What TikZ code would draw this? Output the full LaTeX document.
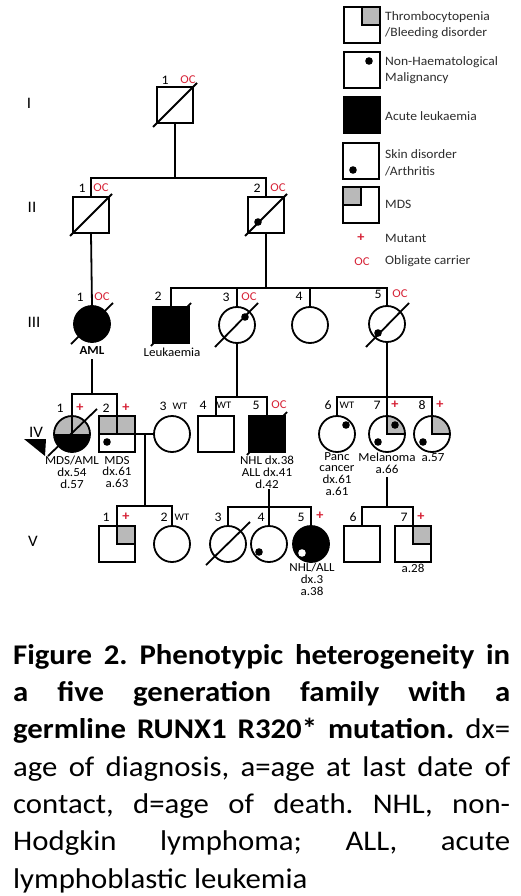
\documentclass[tikz,border=0pt]{standalone}
\usepackage{fontspec}
\setmainfont{Carlito}[FakeStretch=1.06]
\newfontfamily\capfont{Carlito}[FakeStretch=1.08]
\usetikzlibrary{calc}
\definecolor{ocred}{RGB}{215,35,55}
\definecolor{qgrey}{RGB}{185,185,185}
\definecolor{legtxt}{RGB}{45,45,45}
\begin{document}
\frenchspacing
\begin{tikzpicture}[x=1pt,y=-1pt,
  sq/.style={draw, line width=1.8pt, minimum size=36pt, inner sep=0pt, fill=white},
  ci/.style={sq, circle},
  blk/.style={fill=black},
  lnk/.style={line width=1.8pt},
  dec/.style={line width=1.8pt},
  qUR/.style={path picture={\fill[qgrey] (path picture bounding box.center) rectangle (path picture bounding box.north east);
     \draw[line width=1.8pt] (path picture bounding box.north) -- (path picture bounding box.center) -- (path picture bounding box.east);}},
  qUL/.style={path picture={\fill[qgrey] (path picture bounding box.center) rectangle (path picture bounding box.north west);
     \draw[line width=1.8pt] (path picture bounding box.north) -- (path picture bounding box.center) -- (path picture bounding box.west);}},
  half/.style={path picture={\fill[qgrey] (path picture bounding box.west) rectangle (path picture bounding box.north east);
     \fill[black] (path picture bounding box.west) rectangle (path picture bounding box.south east);}},
  topgrey/.style={path picture={\fill[qgrey] (path picture bounding box.west) rectangle (path picture bounding box.north east);
     \draw[line width=1.8pt] (path picture bounding box.north) -- (path picture bounding box.center)
       (path picture bounding box.west) -- (path picture bounding box.east);}},
  num/.style={font=\fontsize{13}{13}\selectfont, inner sep=0pt},
  oc/.style={font=\fontsize{12}{12}\selectfont, text=ocred, inner sep=0pt},
  plus/.style={font=\bfseries\fontsize{13.5}{13}\selectfont, text=ocred, inner sep=0pt},
  wt/.style={font=\fontsize{10}{10}\selectfont, inner sep=0pt},
  info/.style={font=\fontsize{12.3}{11.8}\selectfont, align=center, inner sep=0pt, anchor=north},
  gen/.style={font=\fontsize{16}{16}\selectfont, inner sep=0pt},
  leg/.style={font=\fontsize{12.8}{16.5}\selectfont, text=legtxt, align=left, anchor=west, inner sep=0pt}
]
\fill[white] (0,0) rectangle (520,896);

% ---------- legend ----------
\node[sq, qUR] (L1) at (362,25) {};
\node[sq] (L2) at (362,70) {};
\node[sq, blk] (L3) at (362,115) {};
\node[sq] (L4) at (361,161) {};
\node[sq, qUL] (L5) at (361,205) {};
\node[plus] (L6) at (361,238) {+};
\node[oc] (L7) at (362,262) {OC};
\fill ($(L2)+(7,-9)$) circle (3.8pt);
\fill ($(L4)+(-8,9)$) circle (3.8pt);
\node[leg] (T1) at (385,25) {Thrombocytopenia\\/Bleeding disorder};
\node[leg] (T2) at (385,70) {Non-Haematological\\Malignancy};
\node[leg] (T3) at (385,116) {Acute leukaemia};
\node[leg] (T4) at (385,163) {Skin disorder\\/Arthritis};
\node[leg] (T5) at (385,204) {MDS};
\node[leg] (T6) at (385,238) {Mutant};
\node[leg] (T7) at (385,261) {Obligate carrier};

% ---------- generation labels ----------
\node[gen] (G1) at (29,103) {I};
\node[gen] (G2) at (32,207) {II};
\node[gen] (G3) at (34,322) {III};
\node[gen] (G4) at (36,432) {IV};
\node[gen] (G5) at (33,541) {V};

% ---------- individuals ----------
\node[sq] (I1) at (175,105) {};
\node[sq] (II1) at (91,215) {};
\node[sq] (II2) at (266,215) {};
\node[ci, blk] (III1) at (92,324) {};
\node[sq, blk] (III2) at (171,325) {};
\node[ci] (III3) at (237,325) {};
\node[ci] (III4) at (310,325) {};
\node[ci] (III5) at (387,324) {};
\node[ci, half] (IV1) at (72,434) {};
\node[sq, topgrey] (IV2) at (117,434) {};
\node[ci] (IV3) at (172,434) {};
\node[sq] (IV4) at (216,434) {};
\node[sq, blk] (IV5) at (267,434) {};
\node[ci] (IV6) at (337,434) {};
\node[ci, qUR] (IV7) at (387,434) {};
\node[ci, qUR] (IV8) at (432,434) {};
\node[sq, qUR] (V1) at (117,544) {};
\node[ci] (V2) at (172,544) {};
\node[ci] (V3) at (228,544) {};
\node[ci] (V4) at (269,544) {};
\node[ci, blk] (V5) at (311,544) {};
\node[sq] (V6) at (362,544) {};
\node[sq, qUR] (V7) at (413,544) {};

% ---------- connectors ----------
\coordinate (sI) at (175,178);
\draw[lnk] (I1.south) -- (sI);
\draw[lnk] (II1.north) |- (sI) -| (II2.north);
\draw[lnk] (II1.south) -- (III1.north);
\coordinate (sII2) at (266,288);
\draw[lnk] (II2.south) -- (sII2);
\draw[lnk] (III2.north) |- (sII2) -| (III5.north);
\draw[lnk] (III3.north) -- (III3.north |- sII2);
\draw[lnk] (III4.north) -- (III4.north |- sII2);
\coordinate (dIII1) at (92,359);
\coordinate (sIII1) at (92,394);
\draw[lnk] (dIII1) -- (sIII1);
\draw[lnk] (IV1.center) |- (sIII1) -| (IV2.north);
\coordinate (sIII3) at (237,397);
\draw[lnk] (III3.south) -- (sIII3);
\draw[lnk] (IV4.north) |- (sIII3) -| (IV5.north);
\coordinate (sIII5) at (387,397);
\draw[lnk] (III5.south) -- (IV7.north);
\draw[lnk] (IV6.north) |- (sIII5) -| (IV8.north);
\draw[lnk] (IV2.east) -- (IV3.west);
\coordinate (m23) at (145,434);
\coordinate (sm23) at (145,506);
\draw[lnk] (m23) -- (sm23);
\draw[lnk] (V1.north) |- (sm23) -| (V2.north);
\coordinate (dIV5) at (269,489);
\coordinate (sIV5) at (269,507);
\draw[lnk] (dIV5) -- (sIV5);
\draw[lnk] (V3.north) |- (sIV5) -| (V5.north);
\draw[lnk] (V4.north) -- (sIV5);
\coordinate (dIV7) at (387,477);
\coordinate (sIV7) at (387,507);
\draw[lnk] (dIV7) -- (sIV7);
\draw[lnk] (V6.north) |- (sIV7) -| (V7.north);

% ---------- deceased lines ----------
\draw[dec] ($(I1)+(-22,22)$) -- ($(I1)+(22,-22)$);
\draw[dec] ($(II1)+(-21,21)$) -- ($(II1)+(21,-21)$);
\draw[dec] ($(II2)+(-21,21)$) -- ($(II2)+(21,-21)$);
\draw[dec] ($(III1)+(-21,20)$) -- ($(III1)+(21,-21)$);
\draw[dec] ($(III2)+(-20,21)$) -- ($(III2)+(20,-22)$);
\draw[dec] ($(III3)+(-22,22)$) -- ($(III3)+(21,-22)$);
\draw[dec] ($(III5)+(-21,23)$) -- ($(III5)+(22,-21)$);
\draw[dec] ($(IV1)+(-24,22)$) -- ($(IV1)+(25,-25)$);
\draw[dec] ($(IV5)+(-20,21)$) -- ($(IV5)+(20,-22)$);
\draw[dec] ($(V3)+(-22,21)$) -- ($(V3)+(22,-22)$);

% ---------- proband arrow ----------
\fill (24,439) -- (46,439) -- (45,456) -- cycle;

% ---------- dots ----------
\fill ($(II2)+(-8,7)$) circle (3.8pt);
\fill ($(III3)+(8,-8)$) circle (3.8pt);
\fill ($(III5)+(-9,9)$) circle (3.8pt);
\fill ($(IV2)+(-10,8)$) circle (3.8pt);
\fill ($(IV6)+(9,-9)$) circle (3.8pt);
\fill ($(IV7)+(8,-9)$) circle (3.8pt);
\fill ($(IV7)+(-9,8)$) circle (3.8pt);
\fill ($(IV8)+(-9,8)$) circle (3.8pt);
\fill ($(V4)+(-10,8)$) circle (3.8pt);
\fill[white] ($(V5)+(-9,9)$) circle (3.8pt);

% ---------- individual labels ----------
\node[num] (nI1) at (165,80) {1};  \node[oc] (oI1) at (188,80) {OC};
\node[num] (nII1) at (82,188) {1}; \node[oc] (oII1) at (101,188) {OC};
\node[num] (nII2) at (257,188) {2}; \node[oc] (oII2) at (278,188) {OC};
\node[num] (nIII1) at (80,297) {1}; \node[oc] (oIII1) at (102,297) {OC};
\node[num] (nIII2) at (158,296) {2};
\node[num] (nIII3) at (226,297) {3}; \node[oc] (oIII3) at (249,297) {OC};
\node[num] (nIII4) at (299,296) {4};
\node[num] (nIII5) at (378,294) {5}; \node[oc] (oIII5) at (400,294) {OC};
\node[num] (nIV1) at (60,408) {1}; \node[plus] (pIV1) at (80,408) {+};
\node[num] (nIV2) at (106,408) {2}; \node[plus] (pIV2) at (126,408) {+};
\node[num] (nIV3) at (163,406) {3}; \node[wt] (wIV3) at (180,406) {WT};
\node[num] (nIV4) at (203,405) {4}; \node[wt] (wIV4) at (224,405) {WT};
\node[num] (nIV5) at (256,405) {5}; \node[oc] (oIV5) at (279,405) {OC};
\node[num] (nIV6) at (328,405) {6}; \node[wt] (wIV6) at (347,405) {WT};
\node[num] (nIV7) at (377,405) {7}; \node[plus] (pIV7) at (395,405) {+};
\node[num] (nIV8) at (422,405) {8}; \node[plus] (pIV8) at (440,405) {+};
\node[num] (nV1) at (106,517) {1}; \node[plus] (pV1) at (126,517) {+};
\node[num] (nV2) at (164,517) {2}; \node[wt] (wV2) at (182,517) {WT};
\node[num] (nV3) at (218,517) {3};
\node[num] (nV4) at (261,517) {4};
\node[num] (nV5) at (301,517) {5}; \node[plus] (pV5) at (320,516) {+};
\node[num] (nV6) at (353,517) {6};
\node[num] (nV7) at (404,517) {7}; \node[plus] (pV7) at (421,517) {+};

% ---------- clinical info ----------
\node[info, font=\bfseries\fontsize{12.3}{11.8}\selectfont] (xIII1) at (92,346) {AML};
\node[info] (xIII2) at (172,348) {Leukaemia};
\node[info] (xIV1) at (72,456) {MDS/AML\\dx.54\\d.57};
\node[info] (xIV2) at (117,456) {MDS\\dx.61\\a.63};
\node[info] (xIV5) at (267,456) {NHL dx.38\\ALL dx.41\\d.42};
\node[info] (xIV6) at (337,452) {Panc\\cancer\\dx.61\\a.61};
\node[info] (xIV7) at (387,453) {Melanoma\\a.66};
\node[info] (xIV8) at (433,453) {a.57};
\node[info] (xV5) at (312,563) {NHL/ALL\\dx.3\\a.38};
\node[info] (xV7) at (413,564) {a.28};

% ---------- caption ----------
\node[anchor=north west, inner sep=0pt, text width=497pt, align=justify,
      font=\capfont\fontsize{28.5}{37.3}\selectfont] (cap) at (13,644)
  {\tolerance=10000\hbadness=10000\hyphenpenalty=10000\frenchspacing
   \textbf{Figure 2. Phenotypic heterogeneity in\linebreak a five generation family with a\linebreak germline RUNX1 R320* mutation.} dx=\linebreak age of diagnosis, a=age at last date of\linebreak contact, d=age of death. NHL, non-\linebreak Hodgkin lymphoma; ALL, acute\linebreak lymphoblastic leukemia};
\end{tikzpicture}
\end{document}
